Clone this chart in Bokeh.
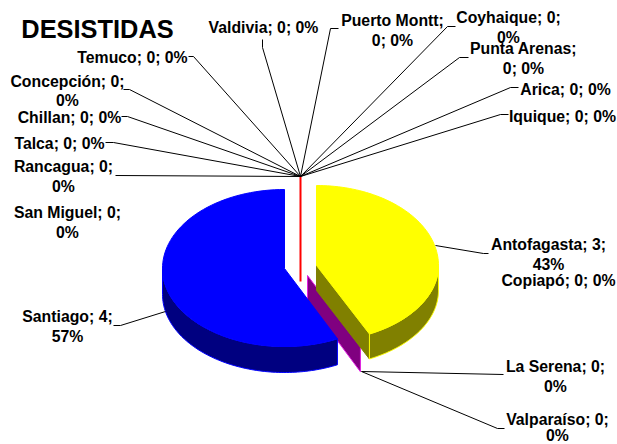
import numpy as np
from bokeh.plotting import figure
from bokeh.models import Range1d
from bokeh.core.properties import value
from bokeh.embed import file_html
from bokeh.resources import INLINE

# ---- data ----
title = "DESISTIDAS"
cities = ["Arica", "Iquique", "Antofagasta", "Copiapó", "La Serena", "Valparaíso", "Santiago",
          "San Miguel", "Rancagua", "Talca", "Chillan", "Concepción", "Temuco", "Valdivia",
          "Puerto Montt", "Coyhaique", "Punta Arenas"]
counts = [0, 0, 3, 0, 0, 0, 4, 0, 0, 0, 0, 0, 0, 0, 0, 0, 0]
shares = ["0%", "0%", "43%", "0%", "0%", "0%", "57%", "0%", "0%", "0%", "0%", "0%", "0%", "0%", "0%", "0%", "0%"]

# ---- layout (screen pixels) ----
W, H = 617, 444
RX, DEPTH = 122, 25
FONT = "Liberation Sans"
LABEL_PX = 15.8
wrap = {"Antofagasta": 2, "La Serena": 3, "Valparaíso": 2, "Santiago": 2, "San Miguel": 3,
        "Rancagua": 2, "Concepción": 2, "Puerto Montt": 2, "Coyhaique": 2, "Punta Arenas": 2}
label_pos = {"Valdivia": (263, [27]), "Puerto Montt": (392, [20, 40]), "Coyhaique": (508, [17, 37]),
             "Punta Arenas": (523, [48, 68]), "Arica": (565, [89]), "Iquique": (562, [116]),
             "Antofagasta": (548, [244, 264]), "Copiapó": (558, [280]), "La Serena": (555, [366, 386]),
             "Valparaíso": (557, [419, 435]), "Santiago": (67, [316, 336]), "San Miguel": (67, [212, 232]),
             "Rancagua": (63, [166, 186]), "Talca": (59, [143]), "Chillan": (69, [117]),
             "Concepción": (67, [81, 100]), "Temuco": (132, [57])}
leaders = [[(300, 176), (262, 47), (262, 39)], [(300, 176), (330, 28), (338, 28)],
           [(300, 176), (447, 26), (455, 26)], [(300, 176), (459, 57), (468, 57)],
           [(300, 176), (510, 87), (518, 87)], [(300, 176), (500, 114), (508, 114)],
           [(300, 176), (193, 56), (188, 56)], [(300, 176), (129, 89), (123, 89)],
           [(300, 176), (127, 116), (121, 116)], [(300, 176), (113, 142), (105, 142)],
           [(300, 176), (115, 175)], [(361, 371), (503, 374)],
           [(361, 371), (497, 428), (504, 428)], [(435, 245), (483, 253), (488, 253)],
           [(165, 311), (120, 325), (113, 325)]]

p = figure(width=W, height=H, x_range=Range1d(0, W), y_range=Range1d(H, 0),
           toolbar_location=None, output_backend="svg", min_border=0, outline_line_color=None,
           background_fill_color="white", border_fill_color="white")
p.axis.visible = False
p.grid.visible = False

total = sum(counts)
theta_cum = np.cumsum([0] + [c / total * 2 * np.pi for c in counts])


def rim(cx, cy, ry_up, ry_lo, a, b, n=90):
    t = np.linspace(a, b, n)
    ry = np.where(np.cos(t) > 0, ry_up, ry_lo)
    return cx + RX * np.sin(t), cy - ry * np.cos(t)


red_cx, red_cy, red_ry = 300, 256, 80
p.line([red_cx, red_cx], [red_cy - red_ry, red_cy + DEPTH], line_color="#FF0000", line_width=2)

a = theta_cum[cities.index("Copiapó")]
cx, cy = 307, 275
ex, ey = rim(cx, cy, 79, 78, a, a, 2)
p.patch([cx, ex[0], ex[0], cx], [cy, ey[0], ey[0] + DEPTH + 1, cy + DEPTH], fill_color="#800080",
        line_color="#E020E0", line_width=1)

a0, a1 = theta_cum[cities.index("Antofagasta")], theta_cum[cities.index("Antofagasta") + 1]
cx, cy = 316, 265
ru, rl = 80, 76
x, y = rim(cx, cy, ru, rl, np.pi / 2, a1)
p.patch(np.r_[x, x[::-1]], np.r_[y, y[::-1] + DEPTH], fill_color="#808000", line_color="#FFFF00", line_width=1)
ex, ey = rim(cx, cy, ru, rl, a1, a1, 2)
p.patch([cx, ex[0], ex[0], cx], [cy, ey[0], ey[0] + DEPTH, cy + DEPTH], fill_color="#808000",
        line_color="#808000", line_width=1)
p.line([ex[0], ex[0]], [ey[0], ey[0] + DEPTH], line_color="#FFFF00", line_width=1)
x, y = rim(cx, cy, ru, rl, a0, a1)
p.patch(np.r_[cx, x], np.r_[cy, y], fill_color="#FFFF00", line_color="#FFFF00", line_width=1)

i = cities.index("Santiago")
a0, a1 = theta_cum[i], theta_cum[i + 1]
cx, cy = 284, 268
ru, rl = 79, 78
x, y = rim(cx, cy, ru, rl, a0, 1.5 * np.pi)
p.patch(np.r_[x, x[::-1]], np.r_[y, y[::-1] + DEPTH + 1], fill_color="#000080", line_color="#0000FF", line_width=1)
x, y = rim(cx, cy, ru, rl, a0, a1)
p.patch(np.r_[cx, x], np.r_[cy, y], fill_color="#0000FF", line_color="#0000FF", line_width=1)

for pts in leaders:
    p.line([q[0] for q in pts], [q[1] for q in pts], line_color="#000000", line_width=1)

xs, ys, ts = [], [], []
for name, c, s in zip(cities, counts, shares):
    words = f"{name}; {c}; {s}".split(" ")
    n = wrap.get(name)
    lines = [" ".join(words)] if n is None else [" ".join(words[:len(words) - 1]), words[-1]]
    if name == "Puerto Montt" or name == "Punta Arenas":
        lines = [" ".join(words[:2]), " ".join(words[2:])]
    lx, lys = label_pos[name]
    for ln, ly in zip(lines, lys):
        xs.append(lx); ys.append(ly); ts.append(ln)
p.text(xs, ys, text=ts, text_font=value(FONT), text_font_style="bold", text_font_size=f"{LABEL_PX}px",
       text_color="#000000", text_align="center", text_baseline="middle")
p.text([97], [28], text=[title], text_font=value(FONT), text_font_style="bold", text_font_size="25.4px",
       text_color="#000000", text_align="center", text_baseline="middle")

open("out.html", "w").write(file_html(p, INLINE))
